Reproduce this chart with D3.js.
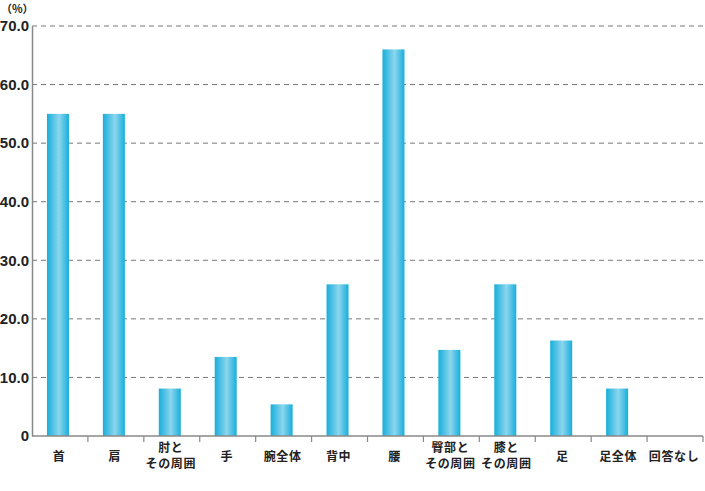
<!DOCTYPE html>
<html>
<head>
<meta charset="utf-8">
<script src="https://cdn.jsdelivr.net/npm/d3@7"></script>
<style>
  body { margin: 0; background: #fff; }
  svg { display: block; }
</style>
</head>
<body>
<div id="chart"></div>
<script>
// ---- data ----
var categories = ["首", "肩", "肘と\nその周囲", "手", "腕全体", "背中", "腰", "臀部と\nその周囲", "膝と\nその周囲", "足", "足全体", "回答なし"];
var values = [55.0, 55.0, 8.1, 13.5, 5.4, 25.9, 66.0, 14.7, 25.9, 16.3, 8.1, 0];
var yTicks = [0, 10, 20, 30, 40, 50, 60, 70];

var width = 705,
    height = 491,
    margin = {left: 32, top: 26, right: 2, bottom: 55};

var svg = d3.select("#chart")
            .append("svg")
            .attr("width", width)
            .attr("height", height);

// bar gradient, darker edges, light middle
var grad = svg.append("defs").append("linearGradient")
              .attr("id", "barGrad")
              .attr("x1", "0%").attr("x2", "100%")
              .attr("y1", "0%").attr("y2", "0%");
grad.append("stop").attr("offset", "0%").attr("stop-color", "#17aedb");
grad.append("stop").attr("offset", "55%").attr("stop-color", "#8cd6ee");
grad.append("stop").attr("offset", "100%").attr("stop-color", "#17aedb");

var xScale = d3.scaleBand()
               .domain(categories)
               .range([margin.left, width - margin.right])
               .paddingInner(0)
               .paddingOuter(0);

var yScale = d3.scaleLinear()
               .domain([0, 70])
               .range([height - margin.bottom, margin.top]);

// dashed grid lines
svg.append("g")
   .selectAll("line")
   .data(yTicks.filter(function(v){return v > 0}))
   .enter()
   .append("line")
     .attr("x1", margin.left)
     .attr("x2", width - margin.right)
     .attr("y1", function(v){return yScale(v)})
     .attr("y2", function(v){return yScale(v)})
     .attr("stroke", "#777")
     .attr("stroke-width", 1)
     .attr("stroke-dasharray", "5,4");

// bars
var barW = 22;
svg.append("g")
   .selectAll("rect")
   .data(values)
   .enter()
   .append("rect")
     .attr("x", function(v, i){return xScale(categories[i]) + xScale.bandwidth() / 2 - barW / 2 - 2})
     .attr("y", function(v){return yScale(v)})
     .attr("width", barW)
     .attr("height", function(v){return yScale(0) - yScale(v)})
     .attr("fill", "url(#barGrad)");

// y axis
var yAxis = d3.axisLeft(yScale)
              .tickValues(yTicks)
              .tickSize(0)
              .tickPadding(3)
              .tickFormat(function(v){return v === 0 ? "0" : d3.format(".1f")(v)});

var gy = svg.append("g")
            .attr("transform", "translate(" + margin.left + ",0)")
            .call(yAxis);
gy.select(".domain").attr("stroke", "#888").attr("stroke-width", 1.5);
gy.selectAll("text")
  .attr("font-family", "Liberation Sans, Arial, sans-serif")
  .attr("font-weight", "bold")
  .attr("font-size", 15)
  .attr("fill", "#222");

// x axis line + ticks at band edges
var gx = svg.append("g");
gx.append("line")
  .attr("x1", margin.left)
  .attr("x2", width - margin.right)
  .attr("y1", yScale(0))
  .attr("y2", yScale(0))
  .attr("stroke", "#888")
  .attr("stroke-width", 1.5);

gx.selectAll(".tick")
  .data(categories)
  .enter()
  .append("line")
    .attr("x1", function(c){return xScale(c) + xScale.bandwidth()})
    .attr("x2", function(c){return xScale(c) + xScale.bandwidth()})
    .attr("y1", yScale(0))
    .attr("y2", yScale(0) + 6)
    .attr("stroke", "#888")
    .attr("stroke-width", 1.2);

// category labels
var labels = gx.selectAll(".lbl")
  .data(categories)
  .enter()
  .append("text")
    .attr("text-anchor", "middle")
    .attr("font-family", "Noto Sans CJK JP, sans-serif")
    .attr("font-weight", "bold")
    .attr("font-size", 12)
    .attr("letter-spacing", 0.6)
    .attr("fill", "#222");

labels.each(function(c){
    var lines = c.split("\n"),
        t = d3.select(this),
        cx = xScale(c) + xScale.bandwidth() / 2 - 1,
        y0 = lines.length > 1 ? 452 : 461;
    lines.forEach(function(s, k){
        t.append("tspan")
         .attr("x", cx)
         .attr("y", y0 + k * 16)
         .text(s);
    });
});

// unit label
svg.append("text")
   .attr("x", 1)
   .attr("y", 13)
   .attr("font-family", "Noto Sans CJK JP, sans-serif")
   .attr("font-weight", "bold")
   .attr("font-size", 11)
   .attr("fill", "#222")
   .text("（%）");
</script>
</body>
</html>
